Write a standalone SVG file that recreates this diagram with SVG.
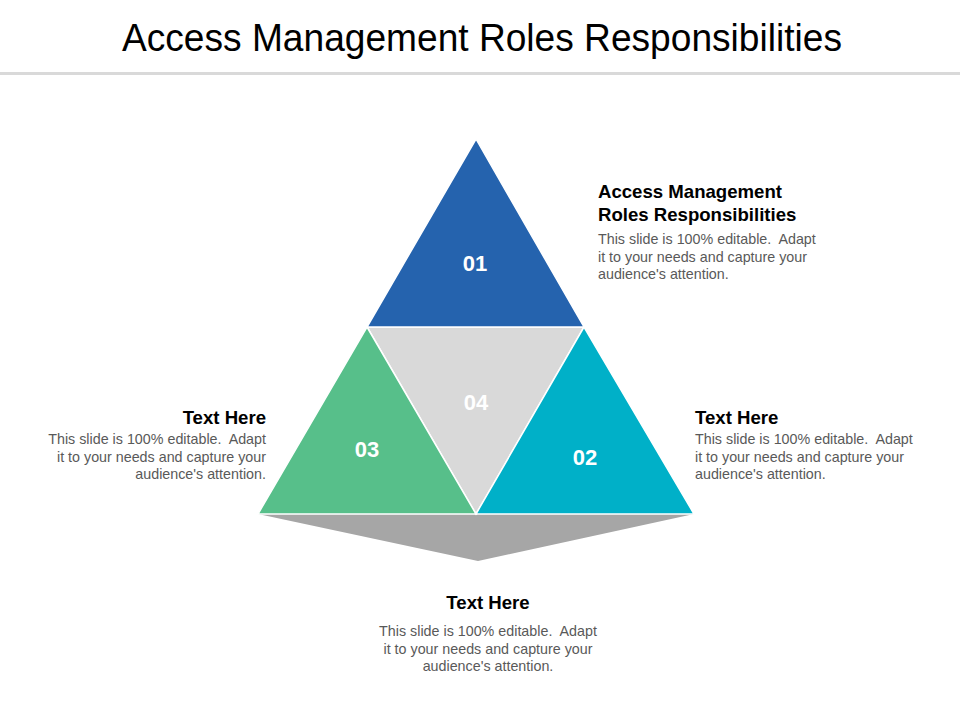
<svg xmlns="http://www.w3.org/2000/svg" width="960" height="720" viewBox="0 0 960 720">
<style>
.title{font-family:"Liberation Sans",Arial,sans-serif;font-size:38px;fill:#000}
.head{font-family:"Liberation Sans",Arial,sans-serif;font-size:18.6px;font-weight:bold;fill:#000}
.body{font-family:"Liberation Sans",Arial,sans-serif;font-size:14.3px;fill:#595959;white-space:pre}
.num{font-family:"Liberation Sans",Arial,sans-serif;font-size:22px;font-weight:bold;fill:#fff;text-anchor:middle}
.tri{stroke:#fff;stroke-width:1.5;stroke-linejoin:miter}
</style>
<rect width="960" height="720" fill="#fff"/>
<g id="title">
<text class="title" x="482" y="51" text-anchor="middle" textLength="720" lengthAdjust="spacingAndGlyphs">Access Management Roles Responsibilities</text>
<rect x="0" y="72" width="960" height="3" fill="#d9d9d9"/>
</g>
<g id="shadow"><polygon points="258,514 694,514 478,561" fill="#a6a6a6"/></g>
<g id="node04"><polygon class="tri" points="367,327 584,327 476,514" fill="#d9d9d9"/><text class="num" x="476" y="410">04</text></g>
<g id="node01"><polygon class="tri" points="476,139 584,327 367,327" fill="#2563ae"/><text class="num" x="475" y="271">01</text></g>
<g id="node03"><polygon class="tri" points="367,327 476,514 258,514" fill="#57bf8a"/><text class="num" x="367" y="457">03</text></g>
<g id="node02"><polygon class="tri" points="584,327 694,514 476,514" fill="#00b0c8"/><text class="num" x="585" y="465">02</text></g>
<g id="connectors"></g>
<g id="text01">
<text class="head" x="598" y="198">Access Management</text>
<text class="head" x="598" y="221">Roles Responsibilities</text>
<text class="body" x="598" y="244" xml:space="preserve">This slide is 100% editable.  Adapt</text>
<text class="body" x="598" y="262">it to your needs and capture your</text>
<text class="body" x="598" y="279">audience's attention.</text>
</g>
<g id="text02">
<text class="head" x="695" y="424">Text Here</text>
<text class="body" x="695" y="444" xml:space="preserve">This slide is 100% editable.  Adapt</text>
<text class="body" x="695" y="462">it to your needs and capture your</text>
<text class="body" x="695" y="479">audience's attention.</text>
</g>
<g id="text03" text-anchor="end">
<text class="head" x="266" y="424">Text Here</text>
<text class="body" x="266" y="444" xml:space="preserve">This slide is 100% editable.  Adapt</text>
<text class="body" x="266" y="462">it to your needs and capture your</text>
<text class="body" x="266" y="479">audience's attention.</text>
</g>
<g id="text04" text-anchor="middle">
<text class="head" x="488" y="609">Text Here</text>
<text class="body" x="488" y="636" xml:space="preserve">This slide is 100% editable.  Adapt</text>
<text class="body" x="488" y="654">it to your needs and capture your</text>
<text class="body" x="488" y="671">audience's attention.</text>
</g>
</svg>
